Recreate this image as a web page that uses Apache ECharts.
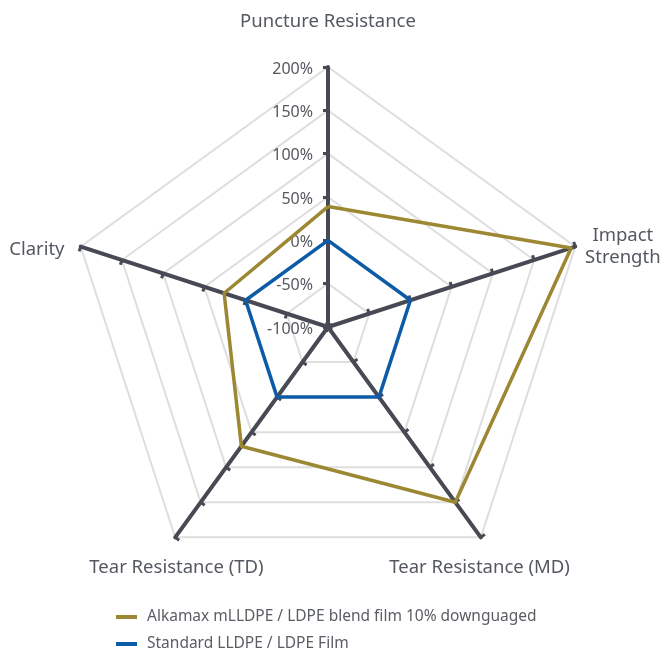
<!DOCTYPE html>
<html>
<head>
<meta charset="utf-8">
<script src="https://cdn.jsdelivr.net/npm/echarts@6/dist/echarts.min.js"></script>
<style>html,body{margin:0;padding:0;background:#fff}#c{width:662px;height:649px}</style>
</head>
<body>
<div id="c"></div>
<script>
const indicators = ['Puncture Resistance', 'Clarity', 'Tear Resistance (TD)', 'Tear Resistance (MD)', 'Impact\nStrength'];
const seriesNames = ['Alkamax mLLDPE / LDPE blend film 10% downguaged', 'Standard LLDPE / LDPE Film'];
const alkamax = [39, 26, 70, 150, 195];
const standard = [0, 0, 0, 0, 0];
const axisMin = -100, axisMax = 200;

const FONT = 'Noto Sans';
const NAME_COLOR = '#545860';
// per-indicator name placement (label styling only)
const nameLayout = [
  { nameGap: 45, nameTextStyle: { align: 'center', verticalAlign: 'middle' } },
  { nameGap: 17, nameTextStyle: { align: 'right', verticalAlign: 'middle' } },
  { nameGap: 37, nameTextStyle: { align: 'center', verticalAlign: 'middle', padding: [0, 0, 0, 46] } },
  { nameGap: 37, nameTextStyle: { align: 'center', verticalAlign: 'middle', padding: [0, 46, 0, 0] } },
  { nameGap: 50, nameTextStyle: { align: 'center', verticalAlign: 'middle' } }
];
// spacer line heights used to nudge side labels downward
const nameSpacer = { 'Clarity': 16, 'Impact\nStrength': 32 };

const chart = echarts.init(document.getElementById('c'));
const baseRadar = {
  center: [328, 327], radius: 260, startAngle: 90, splitNumber: 6, shape: 'polygon'
};
chart.setOption({
  animation: false,
  textStyle: { fontFamily: FONT },
  legend: {
    orient: 'vertical', left: 111, top: 604, height: 70, itemGap: 11,
    icon: 'rect', itemWidth: 21, itemHeight: 4,
    textStyle: { color: '#5a5d63', fontSize: 15.5, fontFamily: FONT, padding: [0, 0, 0, 5] },
    data: seriesNames
  },
  radar: [
    Object.assign({}, baseRadar, {
      indicator: indicators.map((n, i) => Object.assign({
        name: n, min: axisMin, max: axisMax, axisLabel: { show: i === 0 }
      }, nameLayout[i])),
      axisName: {
        color: NAME_COLOR, fontSize: 18.5, fontFamily: FONT,
        formatter: function (name) {
          const sp = nameSpacer[name];
          const lines = name.split('\n').map(s => '{n|' + s + '}').join('\n');
          if (sp) return '{s' + sp + '| }\n' + lines;
          return lines;
        },
        rich: {
          n: { color: NAME_COLOR, fontSize: 18.5, fontFamily: FONT, lineHeight: 22 },
          s16: { fontSize: 4, lineHeight: 16 },
          s32: { fontSize: 4, lineHeight: 32 }
        }
      },
      axisLine: { lineStyle: { color: '#474a54', width: 4 } },
      axisTick: { show: true, length: 5, lineStyle: { color: '#474a54', width: 3 } },
      axisLabel: {
        show: true, color: '#55585e', fontSize: 16, fontFamily: FONT,
        formatter: v => '{v|' + v + '%}',
        rich: { v: { color: '#55585e', fontSize: 16, fontFamily: FONT, padding: [4, 7, 0, 0] } }
      },
      splitLine: { lineStyle: { color: '#dedede', width: 2 } },
      splitArea: { show: false }
    }),
    Object.assign({}, baseRadar, {
      indicator: indicators.map(n => ({ name: n, min: axisMin, max: axisMax })),
      axisName: { show: false },
      axisLine: { show: false },
      axisTick: { show: true, inside: true, length: 5, lineStyle: { color: '#474a54', width: 3 } },
      axisLabel: { show: false },
      splitLine: { show: false },
      splitArea: { show: false }
    })
  ],
  series: [{
    type: 'radar', symbol: 'none', radarIndex: 0,
    data: [
      { name: seriesNames[0], value: alkamax, lineStyle: { color: '#9c8733', width: 3.5 }, itemStyle: { color: '#9c8733' } },
      { name: seriesNames[1], value: standard, lineStyle: { color: '#0c5ba6', width: 3.5 }, itemStyle: { color: '#0c5ba6' } }
    ]
  }]
});
</script>
</body>
</html>
